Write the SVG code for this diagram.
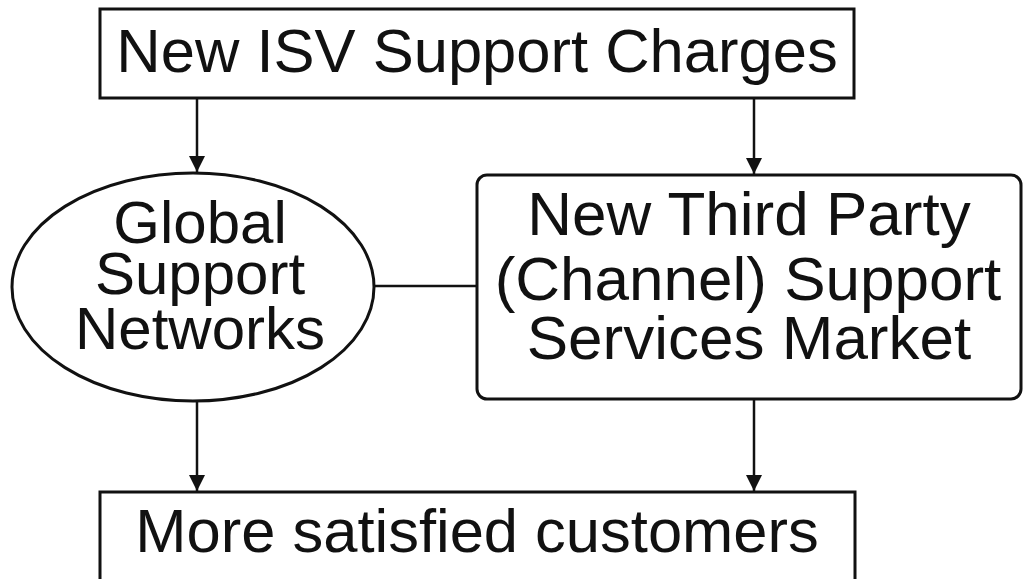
<svg xmlns="http://www.w3.org/2000/svg" width="1025" height="579" viewBox="0 0 1025 579">
<style>
.box{fill:#fff;stroke:#111;stroke-width:3}
.t{font-family:"Liberation Sans",Arial,sans-serif;fill:#111;text-anchor:middle}
.c{stroke:#111;stroke-width:2.5;fill:none}
</style>
<defs>
<marker id="ah" viewBox="0 0 16 22" refX="16" refY="11" markerWidth="16" markerHeight="22" markerUnits="userSpaceOnUse" orient="auto">
<path d="M0,3 L16,11 L0,19 Z" fill="#111"/>
</marker>
</defs>
<rect width="1025" height="579" fill="#fff"/>
<g id="connectors">
<line class="c" x1="197" y1="98" x2="197" y2="172" marker-end="url(#ah)"/>
<line class="c" x1="754" y1="98" x2="754" y2="174" marker-end="url(#ah)"/>
<line class="c" x1="373" y1="286" x2="477" y2="286"/>
<line class="c" x1="197" y1="402" x2="197" y2="491" marker-end="url(#ah)"/>
<line class="c" x1="754" y1="399" x2="754" y2="491" marker-end="url(#ah)"/>
</g>
<g id="n-charges">
<rect class="box" x="100" y="9" width="754" height="89"/>
<text class="t" x="477" y="72" font-size="61.5">New ISV Support Charges</text>
</g>
<g id="n-global">
<ellipse class="box" cx="193" cy="287" rx="181" ry="114"/>
<text class="t" x="200" y="243" font-size="60">Global</text>
<text class="t" x="200" y="294" font-size="60">Support</text>
<text class="t" x="200" y="349" font-size="60">Networks</text>
</g>
<g id="n-thirdparty">
<rect class="box" x="477" y="175" width="544" height="224" rx="10"/>
<text class="t" x="749" y="235" font-size="62">New Third Party</text>
<text class="t" x="748" y="300" font-size="62">(Channel) Support</text>
<text class="t" x="749" y="359" font-size="62">Services Market</text>
</g>
<g id="n-customers">
<rect class="box" x="100" y="492" width="755" height="110"/>
<text class="t" x="477" y="552" font-size="61.5">More satisfied customers</text>
</g>
</svg>
